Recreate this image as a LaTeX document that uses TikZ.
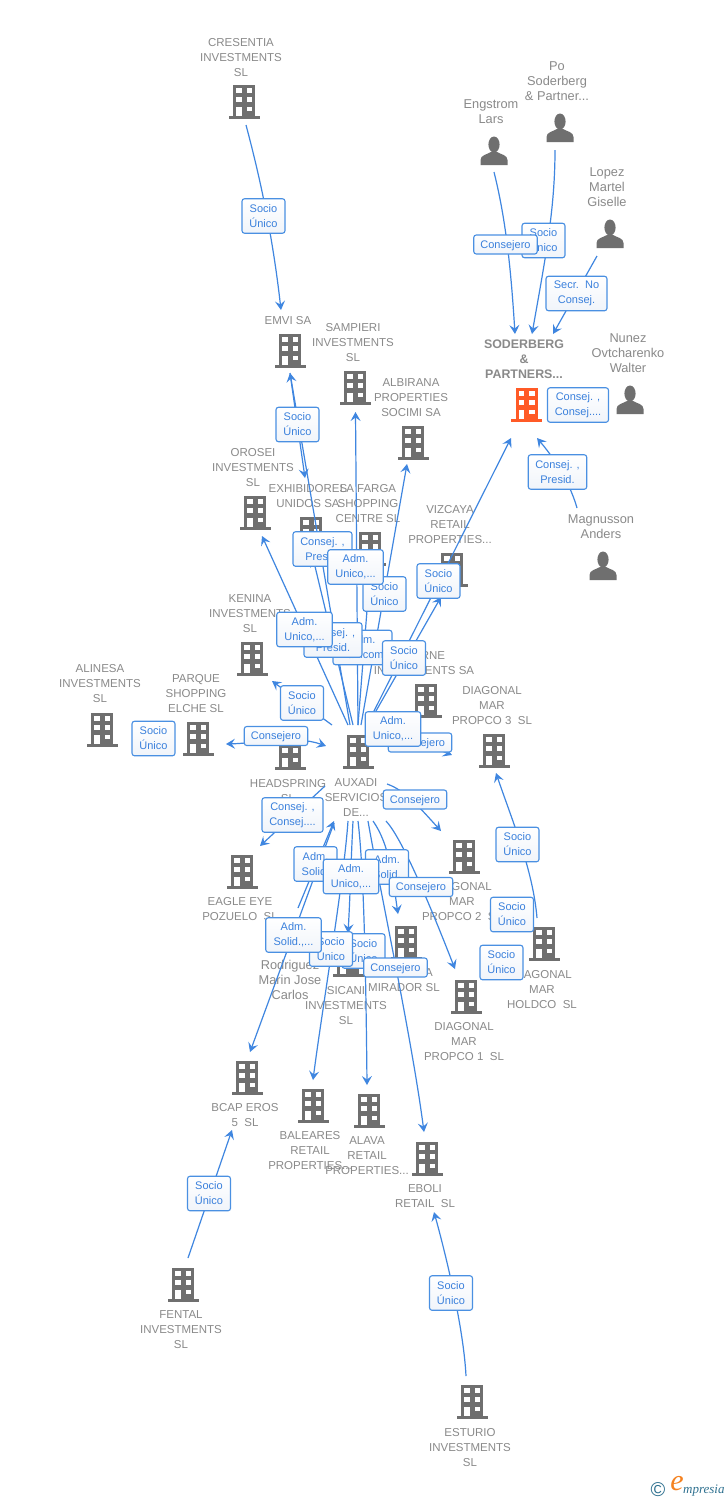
\documentclass[tikz,border=0pt]{standalone}
\usepackage{fontspec}
\setmainfont{Liberation Sans}
\newfontfamily\logofont{Liberation Serif}
\usetikzlibrary{arrows.meta}
\definecolor{txtgray}{HTML}{8A8A8A}
\definecolor{icongray}{HTML}{6F6F6F}
\definecolor{icono}{HTML}{FF5A26}
\definecolor{linkblue}{HTML}{3F86E0}
\definecolor{boxblue}{HTML}{4A90E2}
\definecolor{boxtxt}{HTML}{3A80DC}
\definecolor{boxlow}{HTML}{F0F4FA}
\definecolor{logoteal}{HTML}{2F7190}
\definecolor{logoorange}{HTML}{F58220}
\tikzset{
  x=1pt,y=-1pt,
  nametxt/.style={anchor=north,inner sep=0pt,align=center,text=txtgray,font=\fontsize{11.5}{15}\selectfont},
  persontxt/.style={nametxt,font=\fontsize{12.8}{15}\selectfont},
  linkarrow/.style={draw=linkblue,line width=1.2pt,-{Stealth[length=9pt,width=10pt,inset=3.5pt]}},
  linkplain/.style={draw=linkblue,line width=1.2pt},
  linkboth/.style={draw=linkblue,line width=1.2pt,{Stealth[length=9pt,width=10pt,inset=3.5pt]}-{Stealth[length=9pt,width=10pt,inset=3.5pt]}},
  lbl/.style={draw=boxblue,line width=1.1pt,rounded corners=2.5pt,top color=white,bottom color=boxlow,
    inner sep=0pt,align=center,text=boxtxt,font=\fontsize{11}{15}\selectfont,
    execute at begin node={\rule{0pt}{10.2pt}}},
  socio/.style={lbl,minimum width=43pt,minimum height=34.5pt},
  adm/.style={lbl,minimum width=55.5pt,minimum height=34.5pt},
  cons/.style={lbl,minimum width=61pt,minimum height=34.5pt},
  conse/.style={lbl,minimum width=63.5pt,minimum height=19pt},
  bldg/.pic={
    \fill[pic actions] (-11,-17) rectangle (11,14);
    \fill[pic actions] (-15.5,14) rectangle (15.5,17);
    \foreach \yy in {-14,-4.7,4.7}{
      \fill[white] (2.5,\yy) rectangle (8,\yy+4.7);
    }
    \foreach \yy in {-14,-4.7}{
      \fill[white] (-8,\yy) rectangle (-2.5,\yy+4.7);
    }
    \fill[white] (-8,4.7) rectangle (-2.5,14);
  },
  persona/.pic={
    \fill[pic actions] (0,-6.5) ellipse (5.6 and 8);
    \fill[pic actions] (-13.5,14) -- (-13.5,9) .. controls (-13.5,4) and (-7,3.5) .. (-3,1)
       -- (3,1) .. controls (7,3.5) and (13.5,4) .. (13.5,9) -- (13.5,14) -- cycle;
  },
}
\newcommand{\blg}[3]{\pic[fill=icongray] (#1) at (#2,#3) {bldg};}
\newcommand{\prs}[3]{\pic[fill=icongray] (#1) at (#2,#3) {persona};}
\newcommand{\nm}[4]{\node[nametxt] (#1) at (#2,#3-4.1) {#4};}
\newcommand{\nmp}[4]{\node[persontxt] (#1) at (#2,#3-4.6) {#4};}
\begin{document}
\begin{tikzpicture}
\useasboundingbox (0,0) rectangle (728,1500);
\fill[white] (0,0) rectangle (728,1500);

% --- names -------------------------------------------------------
\nm{tCresentia}{241}{42}{CRESENTIA\\INVESTMENTS\\SL}
\nmp{tPo}{557}{66}{Po\\Soderberg\\\&{} Partner...}
\nmp{tEngstrom}{491}{104}{Engstrom\\Lars}
\nmp{tLopez}{607}{172}{Lopez\\Martel\\Giselle}
\node[nametxt,font=\fontsize{12.4}{15}\selectfont\bfseries] (tSoderberg) at (524,339.6) {SODERBERG\\\&\\PARTNERS...};
\nmp{tNunez}{628}{338}{Nunez\\Ovtcharenko\\Walter}
\nmp{tMagnusson}{601}{519}{Magnusson\\Anders}
\nm{tEmvi}{288}{320}{EMVI SA}
\nm{tSampieri}{353}{327}{SAMPIERI\\INVESTMENTS\\SL}
\nm{tAlbirana}{411}{382}{ALBIRANA\\PROPERTIES\\SOCIMI SA}
\nm{tOrosei}{253}{452}{OROSEI\\INVESTMENTS\\SL}
\nm{tExhib}{308}{488}{EXHIBIDORES\\UNIDOS SA}
\nm{tFarga}{368}{488}{LA FARGA\\SHOPPING\\CENTRE SL}
\nm{tVizcaya}{450}{509}{VIZCAYA\\RETAIL\\PROPERTIES...}
\nm{tKenina}{250}{598}{KENINA\\INVESTMENTS\\SL}
\nm{tRne}{424}{655}{\hspace*{18pt}RNE\\INVESTMENTS SA}
\nm{tAlinesa}{100}{668}{ALINESA\\INVESTMENTS\\SL}
\nm{tParque}{196}{678}{PARQUE\\SHOPPING\\ELCHE SL}
\nm{tHead}{288}{783}{HEADSPRING\\SL}
\nm{tAuxadi}{356}{782}{AUXADI\\SERVICIOS\\DE...}
\nm{tDiag3}{492}{690}{DIAGONAL\\MAR\\PROPCO 3\ \ SL}
\nm{tDiag2}{462}{886}{DIAGONAL\\MAR\\PROPCO 2\ \ SL}
\nm{tHoldco}{542}{974}{DIAGONAL\\MAR\\HOLDCO\ \ SL}
\nm{tEagle}{240}{901}{EAGLE EYE\\POZUELO\ \ SL}
\nmp{tRodriguez}{290}{965}{Rodriguez\\Marin Jose\\Carlos}
\nm{tSicani}{346}{990}{SICANI\\INVESTMENTS\\SL}
\nm{tMirador}{404}{972}{\hspace*{50pt}A\\MIRADOR SL}
\nm{tDiag1}{464}{1026}{DIAGONAL\\MAR\\PROPCO 1\ \ SL}
\nm{tBcap}{245}{1107}{BCAP EROS\\5\ \ SL}
\nm{tBaleares}{310}{1135}{BALEARES\\RETAIL\\PROPERTIES...}
\nm{tAlava}{367}{1140}{ALAVA\\RETAIL\\PROPERTIES...}
\nm{tEboli}{425}{1188}{EBOLI\\RETAIL\ \ SL}
\nm{tFental}{181}{1314}{FENTAL\\INVESTMENTS\\SL}
\nm{tEsturio}{470}{1432}{ESTURIO\\INVESTMENTS\\SL}

% --- icons -------------------------------------------------------
\blg{iCresentia}{244}{102}
\prs{iPo}{560}{128}
\prs{iEngstrom}{494}{151}
\prs{iLopez}{610}{234}
\pic[fill=icono] (iSoderberg) at (526.5,405) {bldg};
\prs{iNunez}{630}{400}
\prs{iMagnusson}{603}{566}
\blg{iEmvi}{290}{351}
\blg{iSampieri}{355}{388}
\blg{iAlbirana}{413}{443}
\blg{iOrosei}{255}{513}
\blg{iExhib}{311}{534}
\blg{iFarga}{370}{549}
\blg{iVizcaya}{452}{570}
\blg{iKenina}{252}{659}
\blg{iRne}{426}{701}
\blg{iAlinesa}{102}{730}
\blg{iParque}{198}{739}
\blg{iHead}{290}{753}
\blg{iAuxadi}{358}{752}
\blg{iDiag3}{494}{751}
\blg{iDiag2}{464}{857}
\blg{iHoldco}{544}{944}
\blg{iEagle}{242}{872}
\blg{iSicani}{348}{960}
\blg{iMirador}{406}{943}
\blg{iDiag1}{466}{997}
\blg{iBcap}{247}{1078}
\blg{iBaleares}{313}{1106}
\blg{iAlava}{369}{1111}
\blg{iEboli}{427}{1159}
\blg{iFental}{183}{1285}
\blg{iEsturio}{472}{1402}

% --- connector ends ------------------------------------------------
\coordinate (cresOut) at (246,125);   \coordinate (emviIn) at (281,310);
\coordinate (engOut) at (494,172);    \coordinate (sodIn1) at (515,334);
\coordinate (poOut) at (555,150);     \coordinate (sodIn2) at (532,334);
\coordinate (lopOut) at (597,256);    \coordinate (sodIn3) at (553,334);
\coordinate (nunOut) at (606,405);    \coordinate (sodIn4) at (550,405);
\coordinate (magOut) at (577,508);    \coordinate (sodIn5) at (537,438);
\coordinate (sodIn6) at (511,438);    \coordinate (auxS) at (367,725);
\coordinate (auxV) at (368,725);      \coordinate (vizIn) at (441,597);
\coordinate (emviOut) at (290,373);   \coordinate (exIn1) at (305,478);
\coordinate (auxE) at (350,725);
\coordinate (auxSa) at (358,725);     \coordinate (samIn) at (355.5,412);
\coordinate (auxAl) at (361,725);     \coordinate (albIn) at (407,464);
\coordinate (auxEx) at (353,725);     \coordinate (exIn2) at (313,558);
\coordinate (auxF) at (358,725);      \coordinate (fargaIn) at (370,572);
\coordinate (auxO) at (348,725);      \coordinate (oroIn) at (262,536);
\coordinate (auxK) at (332,725);      \coordinate (kenIn) at (272,681);
\coordinate (parqIn) at (226,744);    \coordinate (headIn) at (326,746);
\coordinate (auxD3) at (388,730);     \coordinate (d3In) at (452,755);
\coordinate (auxR) at (367,726);      \coordinate (rneIn) at (414,732);
\coordinate (holdOut) at (537,918);   \coordinate (d3In2) at (496,773);
\coordinate (holdOut2) at (525,915);  \coordinate (d2In) at (498,913);
\coordinate (holdOut3) at (516,962);  \coordinate (d1In) at (486,962);
\coordinate (parqOut) at (172,738);   \coordinate (aliIn) at (135,738);
\coordinate (auxD2) at (387,784);     \coordinate (d2In2) at (441,831);
\coordinate (auxD1) at (386,821);     \coordinate (d1In2) at (455,969);
\coordinate (auxM) at (373,821);      \coordinate (mirIn) at (398,914);
\coordinate (auxSi) at (353,821);     \coordinate (sicIn) at (348,933);
\coordinate (auxB) at (348,821);      \coordinate (balIn) at (313,1080);
\coordinate (auxA) at (358,821);      \coordinate (alaIn) at (367,1085);
\coordinate (auxEb) at (368,821);     \coordinate (eboIn) at (424,1132);
\coordinate (auxEa) at (325,786);     \coordinate (eagIn) at (260,846);
\coordinate (rodOut) at (298,908);    \coordinate (auxIn) at (334,821);
\coordinate (auxBc) at (334,823);     \coordinate (bcIn) at (250,1052);
\coordinate (fenOut) at (188,1258);   \coordinate (bcIn2) at (232,1130);
\coordinate (estOut) at (466,1376);   \coordinate (eboIn2) at (434,1212);

% --- connectors ----------------------------------------------------
\draw[linkarrow] (cresOut) .. controls (258,170) and (272,230) .. (emviIn);
\draw[linkarrow] (engOut) .. controls (506,220) and (511,270) .. (sodIn1);
\draw[linkarrow] (poOut) .. controls (555,210) and (545,260) .. (sodIn2);
\draw[linkarrow] (lopOut) -- (sodIn3);
\draw[linkplain] (nunOut) -- (sodIn4);
\draw[linkarrow] (magOut) .. controls (572,490) and (560,465) .. (sodIn5);
\draw[linkarrow] (auxS) -- (sodIn6);
\draw[linkarrow] (auxV) -- (vizIn);
\draw[linkarrow] (emviOut) -- (exIn1);
\draw[linkarrow] (auxE) -- (emviOut);
\draw[linkarrow] (auxSa) -- (samIn);
\draw[linkarrow] (auxAl) -- (albIn);
\draw[linkarrow] (auxEx) -- (exIn2);
\draw[linkarrow] (auxF) -- (fargaIn);
\draw[linkarrow] (auxO) -- (oroIn);
\draw[linkarrow] (auxK) -- (kenIn);
\draw[linkboth] (parqIn) .. controls (260,743) and (295,735) .. (headIn);
\draw[linkarrow] (auxD3) -- (d3In);
\draw[linkplain] (auxR) -- (rneIn);
\draw[linkarrow] (holdOut) .. controls (533,870) and (512,820) .. (d3In2);
\draw[linkplain] (holdOut2) -- (d2In);
\draw[linkplain] (holdOut3) -- (d1In);
\draw[linkplain] (parqOut) -- (aliIn);
\draw[linkarrow] (auxD2) .. controls (405,790) and (420,808) .. (d2In2);
\draw[linkarrow] (auxD1) .. controls (402,838) and (430,905) .. (d1In2);
\draw[linkarrow] (auxM) .. controls (390,845) and (393,880) .. (mirIn);
\draw[linkarrow] (auxSi) .. controls (351,860) and (350,900) .. (sicIn);
\draw[linkarrow] (auxB) .. controls (344,880) and (322,1010) .. (balIn);
\draw[linkarrow] (auxA) .. controls (364,870) and (366,980) .. (alaIn);
\draw[linkarrow] (auxEb) .. controls (380,890) and (412,1040) .. (eboIn);
\draw[linkarrow] (auxEa) -- (eagIn);
\draw[linkarrow] (rodOut) -- (auxIn);
\draw[linkarrow] (auxBc) -- (bcIn);
\draw[linkarrow] (fenOut) -- (bcIn2);
\draw[linkarrow] (estOut) .. controls (464,1335) and (450,1270) .. (eboIn2);

% --- connector labels ------------------------------------------------
\node[socio] (lCres) at (263.5,216) {Socio\\Único};
\node[socio] (lPo) at (543.5,240.5) {Socio\\Único};
\node[conse] (lEng) at (505.5,244.5) {Consejero};
\node[cons] (lLop) at (576.5,293.5) {Secr.\ \ No\\Consej.};
\node[cons] (lNun) at (578,405) {Consej. ,\\Consej....};
\node[cons,minimum width=58.5pt] (lMag) at (557.5,472) {Consej. ,\\Presid.};
\node[socio] (lEmvi) at (297.5,424.5) {Socio\\Único};
\node[socio] (lSod) at (438.5,581) {Socio\\Único};
\node[cons,minimum width=59pt] (lEmviAux) at (322.5,549) {Consej. ,\\Presid.};
\node[socio] (lAlb) at (384.5,594) {Socio\\Único};
\node[adm] (lSam) at (355.5,567) {Adm.\\Unico,...};
\node[cons,minimum width=59pt] (lFar) at (362.5,647.5) {Adm.\\Man.com.};
\node[socio] (lViz) at (404,658) {Socio\\Único};
\node[cons,minimum width=58pt] (lExh) at (333,640) {Consej. ,\\Presid.};
\node[adm] (lOro) at (304.5,629.5) {Adm.\\Unico,...};
\node[socio] (lKen) at (302,703) {Socio\\Único};
\node[conse] (lHead) at (276,736) {Consejero};
\node[socio] (lAli) at (153.5,738.5) {Socio\\Único};
\node[conse] (lD3) at (420,742.5) {Consejero};
\node[adm] (lRne) at (393,729) {Adm.\\Unico,...};
\node[socio] (lHol3) at (517.5,844.5) {Socio\\Único};
\node[socio] (lHol2) at (512,914.5) {Socio\\Único};
\node[socio] (lHol1) at (501.5,962.5) {Socio\\Único};
\node[conse] (lD2) at (415,799.5) {Consejero};
\node[cons] (lEag) at (292.5,815) {Consej. ,\\Consej....};
\node[socio] (lRod) at (315.5,864) {Adm.\\Solid.};
\node[socio] (lMir) at (387,867) {Adm.\\Solid.};
\node[adm] (lSic) at (351,876.5) {Adm.\\Unico,...};
\node[conse] (lD1) at (421,887) {Consejero};
\node[socio] (lAla) at (363.5,951) {Socio\\Único};
\node[conse] (lEbo) at (395.5,967.5) {Consejero};
\node[socio] (lBal) at (331,949) {Socio\\Único};
\node[adm] (lBca) at (293.5,935) {Adm.\\Solid.,...};
\node[socio] (lFen) at (209,1193.5) {Socio\\Único};
\node[socio] (lEst) at (451,1293) {Socio\\Único};

% --- logo ----------------------------------------------------------
\node[inner sep=0pt,text=logoteal,font=\fontsize{20}{20}\selectfont] (logoC) at (658,1489.5) {©};
\node[inner sep=0pt,text=logoorange,font=\logofont\itshape\fontsize{30}{30}\selectfont] (logoE) at (677,1484) {e};
\node[inner sep=0pt,anchor=west,text=logoteal,font=\logofont\itshape\fontsize{13}{13}\selectfont] (logoT) at (683,1491) {mpresia};
\end{tikzpicture}
\end{document}
